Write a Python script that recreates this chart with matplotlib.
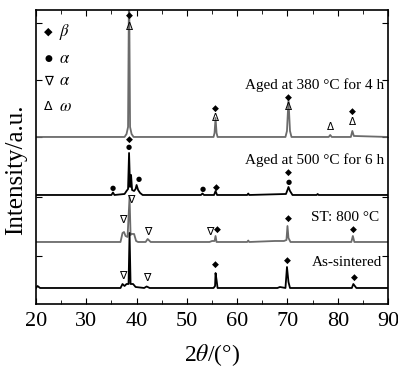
import matplotlib
matplotlib.use("Agg")
import matplotlib.pyplot as plt
from matplotlib.ticker import MultipleLocator

plt.rcParams['font.family'] = ['Liberation Serif', 'DejaVu Sans']
plt.rcParams['mathtext.fontset'] = 'stix'

# XRD patterns (2theta in degrees, relative intensity)
x_380 = [20, 37.6, 38.0, 38.3, 38.5, 38.7, 39.0, 39.4, 45, 55.3, 55.5, 55.7,
         55.9, 56.1, 62, 69.6, 69.9, 70.2, 70.5, 70.8, 78.2, 78.5, 78.8, 82.6, 82.9, 83.2, 90]
y_380 = [0, 0, 3, 10, 160, 10, 3, 0, 0, 0, 4, 19,
         4, 0, 0, 0, 6, 37, 6, 0, 0, 2, 0, 0, 6, 1, 0]

x_500 = [20, 35.0, 35.3, 35.6, 37.6, 38.0, 38.3, 38.5, 38.7, 38.9, 39.1, 39.5, 39.8,
         40.0, 40.3, 40.7, 41.2, 52.8, 53.1, 53.4, 55.4, 55.7, 56.0, 62, 62.2, 62.4,
         69.7, 70.0, 70.2, 70.5, 71.0, 75.8, 76.0, 76.2, 90]
y_500 = [0, 0, 2.5, 0, 1, 4, 6, 42, 8, 20, 5, 4, 6,
         10, 5, 2, 0, 0, 1.5, 0, 0, 4, 0, 0, 1.5, 0,
         1, 5, 8, 4, 0, 0, 1, 0, 0]

x_st = [20, 36.8, 37.2, 37.5, 37.8, 38.2, 38.6, 38.8, 39.0, 39.5, 39.9, 40.3, 41.8,
        42.2, 42.8, 54.5, 55.0, 55.5, 55.7, 55.9, 62, 62.2, 62.4, 67.5, 69.3,
        69.8, 70.0, 70.2, 70.6, 82.7, 83.0, 83.3, 90]
y_st = [0, 0, 9, 10, 6, 5, 45, 7, 8, 8, 1, 0, 0,
        3, 0, 0, 1, 1, 6, 0, 0, 1.5, 0, 1, 1,
        2, 16, 4, 0, 0, 6, 0, 0]

x_as = [20, 20.3, 20.8, 36.8, 37.2, 37.6, 38.0, 38.4, 38.6, 38.8, 39.3, 39.8, 41.5,
        42.0, 42.6, 55.3, 55.6, 55.7, 55.9, 56.1, 68, 68.5, 69.6, 69.9, 70.2, 70.5,
        82.8, 83.1, 83.4, 83.7, 90]
y_as = [0, 2, 0, 0, 4, 2, 4, 4, 55, 4, 4, 1, 0,
        1.5, 0, 0, 2, 15, 8, 0, 0, 1, 0, 21, 6, 0,
        0, 4, 2, 0, 0]

offsets = [167, 109, 62, 16]
colors = ['#6b6b6b', '#000000', '#6b6b6b', '#000000']
patterns = [(x_380, y_380), (x_500, y_500), (x_st, y_st), (x_as, y_as)]

labels = ['Aged at 380 \u00b0C for 4 h', 'Aged at 500 \u00b0C for 6 h', 'ST: 800 \u00b0C', 'As-sintered']
label_x = [89.3, 89.3, 88.2, 88.8]
label_y = [219, 144, 86, 41]

# phase marks: (2theta, height in axis units, symbol)
marks = [
    (38.5, 289, '\u25c6'), (38.5, 277, '\u0394'),
    (55.7, 196, '\u25c6'), (55.7, 186, '\u0394'),
    (70.2, 207, '\u25c6'), (70.2, 197, '\u0394'),
    (78.5, 177, '\u0394'),
    (82.9, 193, '\u25c6'), (82.9, 182, '\u0394'),
    (38.5, 165, '\u25c6'), (38.5, 157, '\u25cf'),
    (35.2, 116, '\u25cf'), (40.4, 125, '\u25cf'), (53.1, 115, '\u25cf'),
    (55.8, 117, '\u25c6'),
    (70.2, 132, '\u25c6'), (70.2, 122, '\u25cf'),
    (38.8, 104, '\u2207'), (37.3, 84, '\u2207'), (42.2, 72, '\u2207'),
    (54.5, 72, '\u2207'), (56.1, 75, '\u25c6'), (70.2, 86, '\u25c6'),
    (83.1, 75, '\u25c6'),
    (37.3, 28, '\u2207'), (42.0, 26, '\u2207'),
    (55.7, 40, '\u25c6'), (70.0, 44, '\u25c6'), (83.3, 27, '\u25c6'),
]
sym_size = {'\u25c6': 6.5, '\u25cf': 5, '\u2207': 8, '\u0394': 7.5}

fig = plt.figure(figsize=(3.98, 3.76), dpi=100)
ax = fig.add_axes([0.0905, 0.1915, 0.8845, 0.782])

for (xs, ys), off, c in zip(patterns, offsets, colors):
    ax.plot(xs, [v + off for v in ys], color=c, lw=1.3)

for lab, lx, ly in zip(labels, label_x, label_y):
    ax.text(lx, ly, lab, ha='right', va='center', fontsize=11)

for mx, my, sym in marks:
    ax.text(mx, my, sym, ha='center', va='center', fontsize=sym_size[sym],
            family='DejaVu Sans', color='black')

# legend drawn as text, as in the original
leg_sym = ['\u25c6', '\u25cf', '\u2207', '\u0394']
leg_txt = [r'$\beta$', r'$\alpha$', r'$\alpha$', r'$\omega$']
leg_y = [272, 245, 223, 197]
for s, t, yy in zip(leg_sym, leg_txt, leg_y):
    ax.text(22.5, yy, s, ha='center', va='center',
            fontsize=sym_size[s] + 1.5, family='DejaVu Sans')
    ax.text(24.6, yy, t, ha='left', va='center', fontsize=12)

ax.set_xlim(20, 90)
ax.set_ylim(0, 294)
ax.xaxis.set_major_locator(MultipleLocator(10))
ax.xaxis.set_minor_locator(MultipleLocator(5))
ax.set_yticks([48, 107, 167, 224, 281])
ax.set_yticklabels([])
ax.tick_params(direction='in', which='both', top=True, right=True, labelsize=16, pad=6)
ax.tick_params(which='major', length=4)
ax.tick_params(which='minor', length=3)
for sp in ax.spines.values():
    sp.set_linewidth(1.2)

ax.set_xlabel('2$\\theta$/(\u00b0)', fontsize=17, labelpad=8)
ax.set_ylabel('Intensity/a.u.', fontsize=18)
ax.yaxis.set_label_coords(-0.026, 0.456)

fig.savefig('out.png', dpi=100)
